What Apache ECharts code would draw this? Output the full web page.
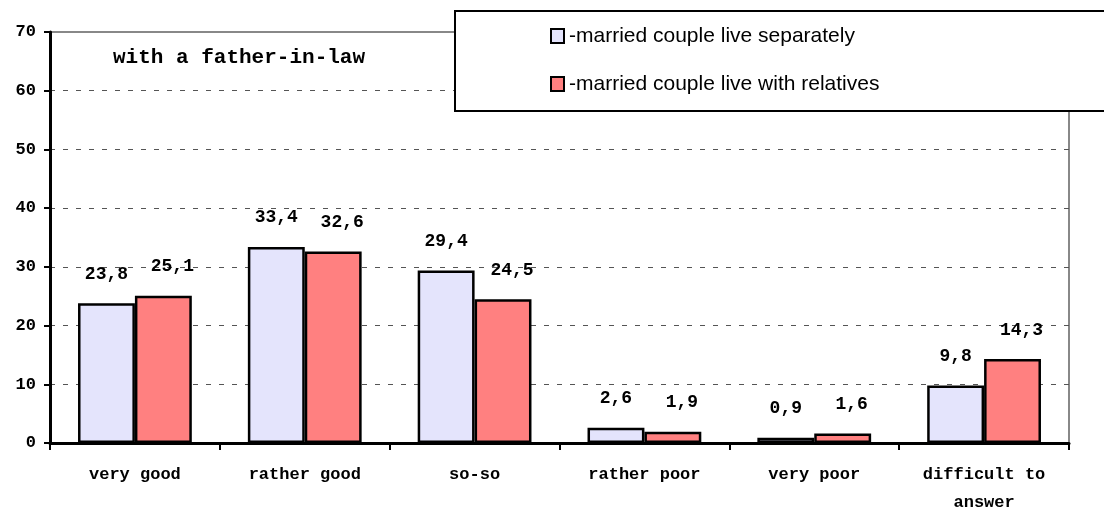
<!DOCTYPE html>
<html>
<head>
	<meta charset="utf-8">
	<title>father-in-law</title>
	<script type="text/javascript" src="https://cdn.jsdelivr.net/npm/echarts@6/dist/echarts.min.js"></script>
</head>
<body style="margin:0">
	<div id="main" style="width: 1104px;height:512px;"></div>
	<script type="text/javascript">
		var categories = ['very good', 'rather good', 'so-so', 'rather poor', 'very poor', 'difficult to\nanswer'];
		var separately = [23.8, 33.4, 29.4, 2.6, 0.9, 9.8];
		var relatives = [25.1, 32.6, 24.5, 1.9, 1.6, 14.3];
		var seriesNames = ['-married couple live separately', '-married couple live with relatives'];

		var mono = '"Liberation Mono", "Courier New", monospace';

		// comma as decimal separator
		function fmt(p) {
			return String(p.value).replace('.', ',');
		}

		function barLabel(dx) {
			return {
				show: true,
				position: 'top',
				distance: 20,
				offset: [dx, 0],
				formatter: fmt,
				fontFamily: mono,
				fontWeight: 'bold',
				fontSize: 18,
				color: '#000'
			};
		}

		var myChart = echarts.init(document.getElementById('main'));

		var option = {
			backgroundColor: '#fff',
			animation: false,
			title: {
				text: 'with a father-in-law',
				left: 108,
				top: 42,
				textStyle: { fontFamily: mono, fontWeight: 'bold', fontSize: 21, color: '#000' }
			},
			legend: {
				orient: 'vertical',
				left: 455,
				top: 11,
				padding: [13, 270, 15, 95],
				itemGap: 24,
				itemWidth: 13,
				itemHeight: 14,
				icon: 'rect',
				backgroundColor: '#fff',
				borderColor: '#000',
				borderWidth: 2,
				z: 10,
				textStyle: { fontFamily: '"Liberation Sans", Arial, sans-serif', fontSize: 21, color: '#000', lineHeight: 24, height: 24 },
				data: seriesNames
			},
			grid: {
				left: 50,
				right: 35,
				top: 32,
				bottom: 69,
				outerBoundsMode: 'none',
				containLabel: false,
				show: true,
				borderColor: '#888',
				borderWidth: 2
			},
			xAxis: {
				type: 'category',
				data: categories,
				axisLine: { lineStyle: { color: '#000', width: 3 } },
				axisTick: { show: true, length: 7, inside: false, lineStyle: { color: '#000', width: 2 } },
				axisLabel: { margin: 18, fontFamily: mono, fontWeight: 'bold', fontSize: 17, color: '#000', lineHeight: 28 }
			},
			yAxis: {
				type: 'value',
				min: 0,
				max: 70,
				interval: 10,
				axisLine: { show: true, lineStyle: { color: '#000', width: 3 } },
				axisTick: { show: true, length: 6, lineStyle: { color: '#000', width: 2 } },
				axisLabel: { margin: 14, fontFamily: mono, fontWeight: 'bold', fontSize: 17, color: '#000' },
				splitLine: {
					show: true,
					showMinLine: false,
					showMaxLine: false,
					lineStyle: { color: '#555', type: [5, 8], width: 1 }
				}
			},
			series: [{
				name: seriesNames[0],
				type: 'bar',
				data: separately,
				barGap: '0%',
				barCategoryGap: '33%',
				itemStyle: { color: '#e4e4fc', borderColor: '#000', borderWidth: 2.5 },
				label: barLabel(0)
			},
			{
				name: seriesNames[1],
				type: 'bar',
				data: relatives,
				barGap: '0%',
				barCategoryGap: '33%',
				itemStyle: { color: '#ff8080', borderColor: '#000', borderWidth: 2.5 },
				label: barLabel(9)
			}]
		};

		myChart.setOption(option);
	</script>
</body>
</html>
